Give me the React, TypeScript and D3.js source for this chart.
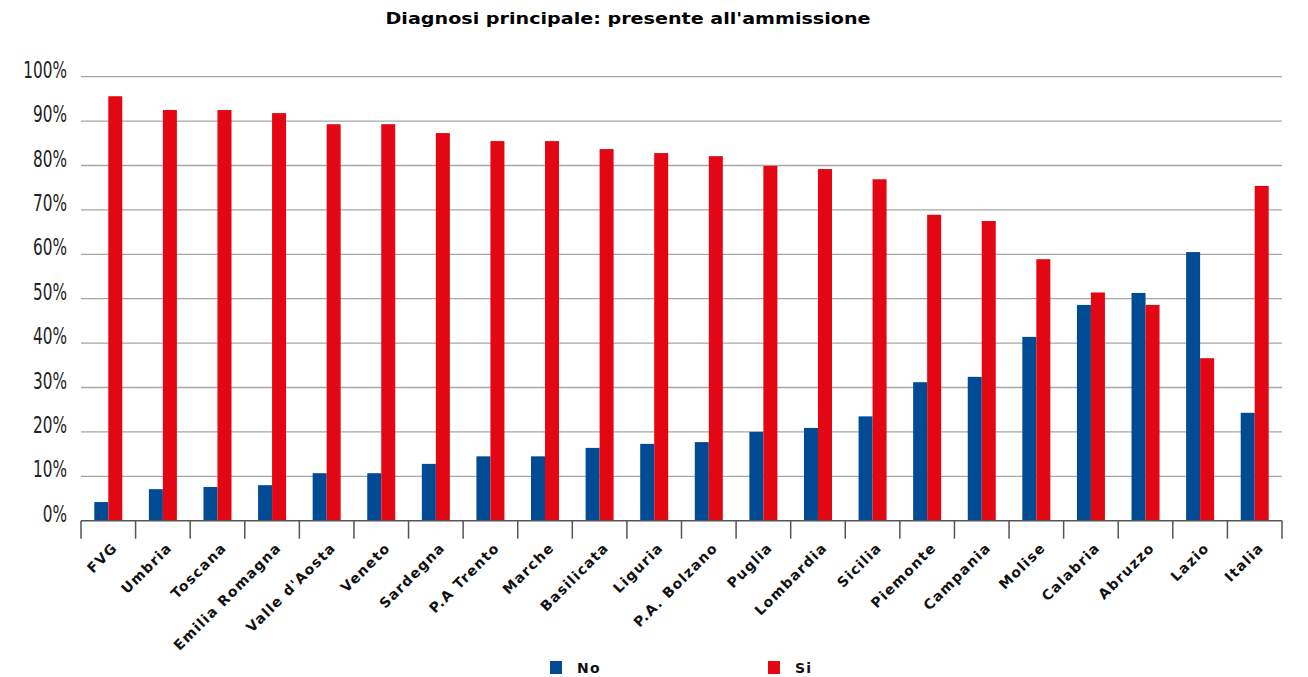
import * as d3 from 'd3';

const regions = [
  'FVG', 'Umbria', 'Toscana', 'Emilia Romagna', "Valle d'Aosta", 'Veneto', 'Sardegna',
  'P.A Trento', 'Marche', 'Basilicata', 'Liguria', 'P.A. Bolzano', 'Puglia', 'Lombardia',
  'Sicilia', 'Piemonte', 'Campania', 'Molise', 'Calabria', 'Abruzzo', 'Lazio', 'Italia',
];
const noValues = [4.2, 7.1, 7.6, 8.0, 10.7, 10.7, 12.8, 14.5, 14.5, 16.4, 17.3, 17.7, 20.0, 20.9, 23.5, 31.2, 32.4, 41.4, 48.6, 51.3, 60.5, 24.3];
const siValues = [95.6, 92.5, 92.5, 91.8, 89.3, 89.3, 87.3, 85.5, 85.5, 83.7, 82.8, 82.1, 79.9, 79.2, 76.9, 68.9, 67.5, 58.9, 51.4, 48.6, 36.6, 75.4];
const yTicks = [0, 10, 20, 30, 40, 50, 60, 70, 80, 90, 100];
const seriesNames = ['No', 'Si'];
const colors: Record<string, string> = { No: '#004b93', Si: '#e30613' };

const W = 1308;
const H = 677;
const margin = { left: 81, right: 26, top: 76.7, bottom: 156.3 };

export default function App() {
  const x0 = d3.scaleBand<string>().domain(regions).range([margin.left, W - margin.right]).padding(0);
  const x1 = d3.scaleBand<string>().domain(seriesNames).range([0, x0.bandwidth()]).paddingInner(0).paddingOuter(0.95);
  const y = d3.scaleLinear().domain([0, 100]).range([H - margin.bottom, margin.top]);
  const baseY = y(0);

  return (
    <svg width={W} height={H} style={{ position: 'absolute', left: 0, top: 0, background: '#fff' }}>
      <text x={628} y={24} textAnchor="middle" fontFamily="DejaVu Sans" fontWeight="bold" fontSize={15}
        textLength={485} lengthAdjust="spacingAndGlyphs">
        Diagnosi principale: presente all'ammissione
      </text>

      {yTicks.map(t => (
        <g key={t}>
          {t > 0 && (
            <line x1={margin.left} x2={W - margin.right} y1={y(t)} y2={y(t)} stroke="#a6a6a6" strokeWidth={1.3} />
          )}
          <text transform={`translate(67,${y(t) + 1}) scale(0.74,1)`} textAnchor="end"
            fontFamily="'Liberation Sans Narrow', 'DejaVu Sans Condensed', sans-serif" fontSize={23} fill="#222">
            {t}%
          </text>
        </g>
      ))}

      {regions.map((r, i) => (
        <g key={r} transform={`translate(${x0(r)},0)`}>
          {seriesNames.map(s => {
            const v = s === 'No' ? noValues[i] : siValues[i];
            return (
              <rect key={s} x={x1(s)} y={y(v)} width={x1.bandwidth()} height={baseY - y(v)} fill={colors[s]} />
            );
          })}
        </g>
      ))}

      <line x1={margin.left} x2={W - margin.right} y1={baseY} y2={baseY} stroke="#555" strokeWidth={1.5} />
      {[...regions.map(r => x0(r) as number), W - margin.right].map((xx, i) => (
        <line key={i} x1={xx} x2={xx} y1={baseY} y2={baseY + 18} stroke="#555" strokeWidth={1.5} />
      ))}

      {regions.map(r => {
        const cx = (x0(r) as number) + x0.bandwidth() / 2 + 10;
        return (
          <text key={r} transform={`translate(${cx},${baseY + 28}) rotate(-45)`} textAnchor="end"
            fontFamily="DejaVu Sans" fontWeight="bold" fontSize={14} letterSpacing={1.3} fill="#111">
            {r}
          </text>
        );
      })}

      {seriesNames.map((s, i) => {
        const lx = i === 0 ? 550 : 768;
        return (
          <g key={s}>
            <rect x={lx} y={661} width={12} height={13} fill={colors[s]} />
            <text x={lx + 27} y={673} fontFamily="DejaVu Sans" fontWeight="bold" fontSize={14} letterSpacing={1.2} fill="#111">{s}</text>
          </g>
        );
      })}
    </svg>
  );
}
